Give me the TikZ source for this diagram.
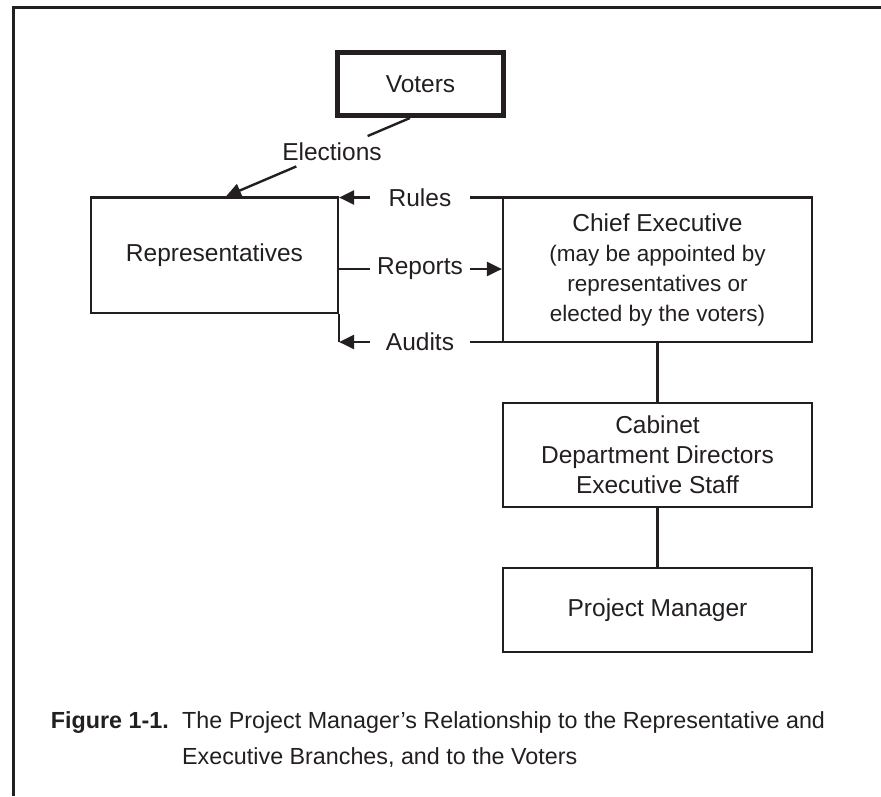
\documentclass[tikz,border=0pt]{standalone}
\usepackage{fontspec}
\setmainfont{Liberation Sans}
\usetikzlibrary{arrows.meta}
\definecolor{ink}{RGB}{35,31,32}
\newcommand\subtxt{\fontsize{22.5}{28}\selectfont}
\begin{document}
\begin{tikzpicture}[x=1pt,y=-1pt,
  every node/.style={text=ink},
  txt/.style={font=\fontsize{24.5}{30}\selectfont},
  box/.style={draw=ink,line width=2.2pt,rectangle,inner sep=0pt,align=center,txt},
  flowlabel/.style={txt,inner sep=0pt,minimum width=100pt,minimum height=24pt},
  wire/.style={draw=ink,line width=2.4pt},
  arr/.style={wire,-{Triangle[length=15pt,width=14pt]}}]
\useasboundingbox (0,0) rectangle (881,796);

% open frame: top and left edges
\draw[ink,line width=2.6pt,line join=miter] (13.5,796) -- (13.5,7.5) -- (881,7.5);

% boxes
\node[box,line width=5pt,minimum width=166pt,minimum height=63pt] (voters) at (420.5,84) {Voters};
\node[box,minimum width=247pt,minimum height=115.5pt] (reps) at (214.5,255.25) {Representatives};
\node[box,minimum width=309pt,minimum height=144.5pt] (ce) at (657.5,269.75)
  {Chief Executive\\\subtxt (may be appointed by\\\subtxt representatives or\\\subtxt elected by the voters)};
\node[box,minimum width=309pt,minimum height=104pt] (cab) at (657.5,455)
  {Cabinet\\Department Directors\\Executive Staff};
\node[box,minimum width=309pt,minimum height=84pt] (pm) at (657.5,610) {Project Manager};

% elections link from the voters to the representatives
\coordinate (vfoot) at ([xshift=-10.5pt]voters.south);
\coordinate (rtop) at ([xshift=11.5pt]reps.north);
\path (vfoot) -- (rtop) node[pos=0.424,txt,inner xsep=2pt,inner ysep=6pt] (elect) {Elections};
\draw[wire] (vfoot) -- (elect);
\draw[arr] (elect) -- (rtop);

% bracket on the right side of the representatives
\node[flowlabel] (rules) at (420,197.5) {Rules};
\node[flowlabel] (reports) at (420,269) {Reports};
\node[flowlabel] (audits) at (420,342) {Audits};
\draw[wire] (reps.south east) -- (reps.east |- audits);

\draw[arr] (rules) -- (rules -| reps.east);
\draw[wire] (rules) -- (rules -| ce.west);
\draw[wire] (reports) -- (reports -| reps.east);
\draw[arr] (reports) -- (reports -| ce.west);
\draw[arr] (audits) -- (audits -| reps.east);
\draw[wire] (audits) -- (audits -| ce.west);

% executive chain
\draw[wire] (ce.south) -- (cab.north);
\draw[wire] (cab.south) -- (pm.north);

% caption
\node[anchor=base east,inner sep=0pt,font=\fontsize{23.3}{36}\selectfont\bfseries] (fignum) at (169,728) {Figure 1-1.};
\node[anchor=base west,inner sep=0pt,align=left,font=\fontsize{23.3}{36}\selectfont] (figtext) at (182,764)
  {The Project Manager’s Relationship to the Representative and\\Executive Branches, and to the Voters};
\end{tikzpicture}
\end{document}
